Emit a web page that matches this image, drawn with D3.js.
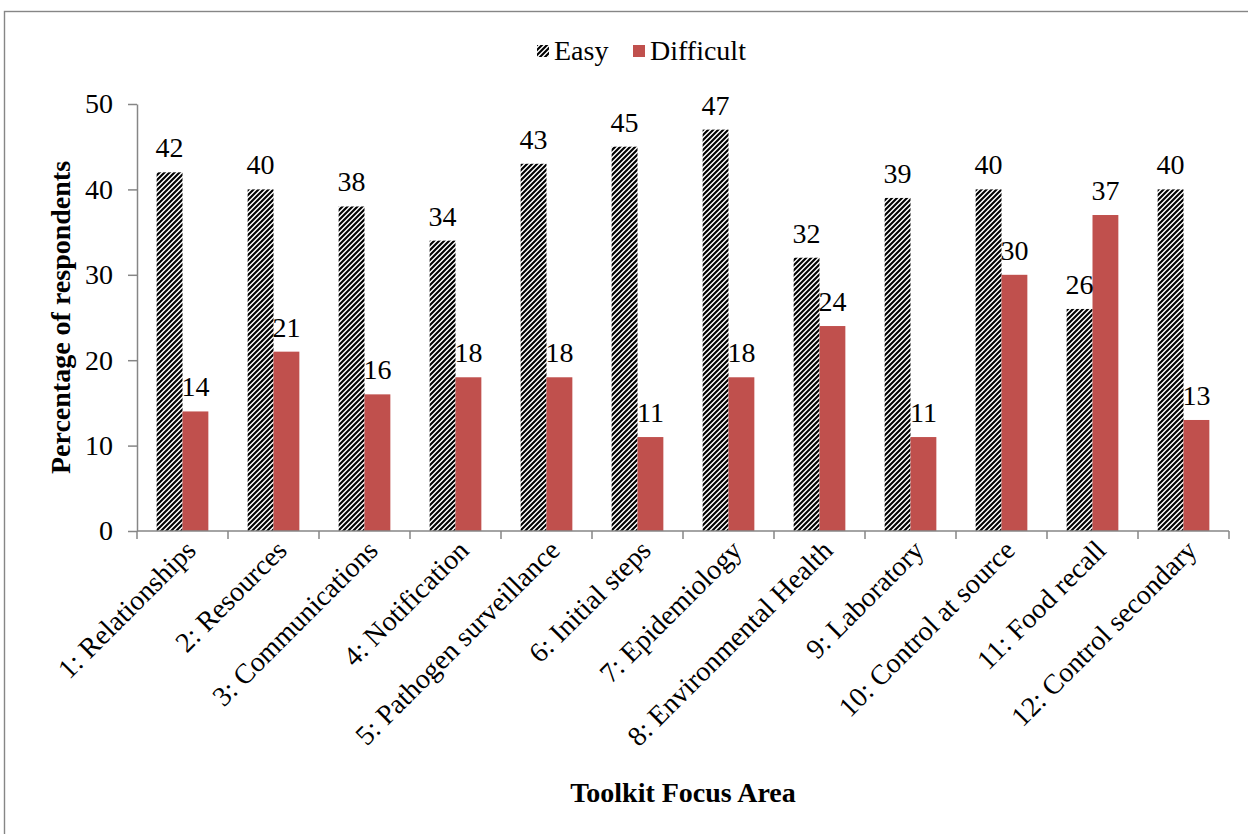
<!DOCTYPE html>
<html>
<head>
<meta charset="utf-8">
<script src="https://cdn.jsdelivr.net/npm/d3@7"></script>
<style>
  html, body { margin: 0; padding: 0; background: #fff; }
  svg { display: block; }
  text { font-family: "Liberation Serif", "DejaVu Serif", serif; fill: #000; }
</style>
</head>
<body>
<svg id="chart" width="1248" height="834"></svg>
<script>
// Toolkit focus areas rated easy / difficult (percentage of respondents)
const categories = [
  "1: Relationships", "2: Resources", "3: Communications", "4: Notification",
  "5: Pathogen surveillance", "6: Initial steps", "7: Epidemiology",
  "8: Environmental Health", "9: Laboratory", "10: Control at source",
  "11: Food recall", "12: Control secondary"
];
const seriesNames = ["Easy", "Difficult"];
const easyValues = [42, 40, 38, 34, 43, 45, 47, 32, 39, 40, 26, 40];
const difficultValues = [14, 21, 16, 18, 18, 11, 18, 24, 11, 30, 37, 13];
const yTicks = [0, 10, 20, 30, 40, 50];

const RED = "#C0504D";
const AXIS = "#868686";
const FS = 28;

const svg = d3.select("#chart");

// hatched fill for the "Easy" series
const defs = svg.append("defs");
const P = 5;
const pat = defs.append("pattern")
  .attr("id", "hatch")
  .attr("patternUnits", "userSpaceOnUse")
  .attr("width", P).attr("height", P);
pat.append("rect").attr("width", P).attr("height", P).attr("fill", "#fff");
pat.append("path")
  .attr("d", `M-1,1 L1,-1 M0,${P} L${P},0 M${P - 1},${P + 1} L${P + 1},${P - 1}`)
  .attr("stroke", "#000").attr("stroke-width", 2.1);

// outer frame
svg.append("rect")
  .attr("x", 4.5).attr("y", 11.5)
  .attr("width", 1400).attr("height", 1000)
  .attr("fill", "none").attr("stroke", AXIS).attr("stroke-width", 1.4);

const plot = { left: 137, right: 1229, top: 104, bottom: 531 };

const x = d3.scaleBand().domain(categories).range([plot.left, plot.right]).padding(0);
const xs = d3.scaleBand().domain(seriesNames).range([0, x.bandwidth()])
  .paddingInner(0).paddingOuter(0.76);
const y = d3.scaleLinear().domain([0, 50]).range([plot.bottom, plot.top]);

const fills = { Easy: "url(#hatch)", Difficult: RED };
const rows = categories.map((c, i) => ({ cat: c, Easy: easyValues[i], Difficult: difficultValues[i] }));

// bars
const groups = svg.append("g").selectAll("g")
  .data(rows).join("g")
  .attr("transform", d => `translate(${x(d.cat)},0)`);

groups.selectAll("rect")
  .data(d => seriesNames.map(s => ({ s, v: d[s] })))
  .join("rect")
  .attr("x", d => xs(d.s))
  .attr("y", d => y(d.v))
  .attr("width", xs.bandwidth())
  .attr("height", d => y(0) - y(d.v))
  .attr("fill", d => fills[d.s]);

// value labels
groups.selectAll("text.val")
  .data(d => seriesNames.map(s => ({ s, v: d[s] })))
  .join("text")
  .attr("class", "val")
  .attr("x", d => xs(d.s) + xs.bandwidth() / 2)
  .attr("y", d => y(d.v) - 15)
  .attr("text-anchor", "middle")
  .attr("font-size", FS)
  .text(d => d.v);

// y axis
const yAxis = svg.append("g")
  .attr("transform", `translate(${plot.left},0)`)
  .call(d3.axisLeft(y).tickValues(yTicks).tickSize(9).tickSizeOuter(0).tickPadding(15));
yAxis.select(".domain").attr("stroke", AXIS).attr("stroke-width", 1.5);
yAxis.selectAll(".tick line").attr("stroke", AXIS).attr("stroke-width", 1.5);
yAxis.selectAll(".tick text")
  .attr("font-family", "Liberation Serif, DejaVu Serif, serif")
  .attr("font-size", FS).attr("fill", "#000");

// x axis line with ticks at category boundaries
const xAxis = svg.append("g");
xAxis.append("line")
  .attr("x1", plot.left).attr("x2", plot.right)
  .attr("y1", plot.bottom).attr("y2", plot.bottom)
  .attr("stroke", AXIS).attr("stroke-width", 1.5);
const bounds = categories.map(c => x(c)).concat([x(categories[categories.length - 1]) + x.bandwidth()]);
xAxis.selectAll("line.tk")
  .data(bounds).join("line")
  .attr("class", "tk")
  .attr("x1", d => d).attr("x2", d => d)
  .attr("y1", plot.bottom).attr("y2", plot.bottom + 8)
  .attr("stroke", AXIS).attr("stroke-width", 1.5);

// rotated category labels
xAxis.selectAll("text.cat")
  .data(categories).join("text")
  .attr("class", "cat")
  .attr("text-anchor", "end")
  .attr("font-size", FS)
  .attr("transform", d => `translate(${x(d) + x.bandwidth() / 2 + 15},${plot.bottom + 21}) rotate(-45)`)
  .text(d => d);

// axis titles
svg.append("text")
  .attr("transform", `translate(70,${(plot.top + plot.bottom) / 2}) rotate(-90)`)
  .attr("text-anchor", "middle")
  .attr("font-size", FS).attr("font-weight", "bold")
  .text("Percentage of respondents");

svg.append("text")
  .attr("x", 683).attr("y", 802)
  .attr("text-anchor", "middle")
  .attr("font-size", FS).attr("font-weight", "bold")
  .text("Toolkit Focus Area");

// legend
const legend = svg.append("g").attr("transform", "translate(537,45)");
const legendItems = [
  { s: "Easy", dx: 0 },
  { s: "Difficult", dx: 96 }
];
const li = legend.selectAll("g").data(legendItems).join("g")
  .attr("transform", d => `translate(${d.dx},0)`);
li.append("rect")
  .attr("width", 12).attr("height", 12)
  .attr("fill", d => fills[d.s]);
li.append("text")
  .attr("x", 17).attr("y", 15)
  .attr("font-size", FS)
  .text(d => d.s);
</script>
</body>
</html>
